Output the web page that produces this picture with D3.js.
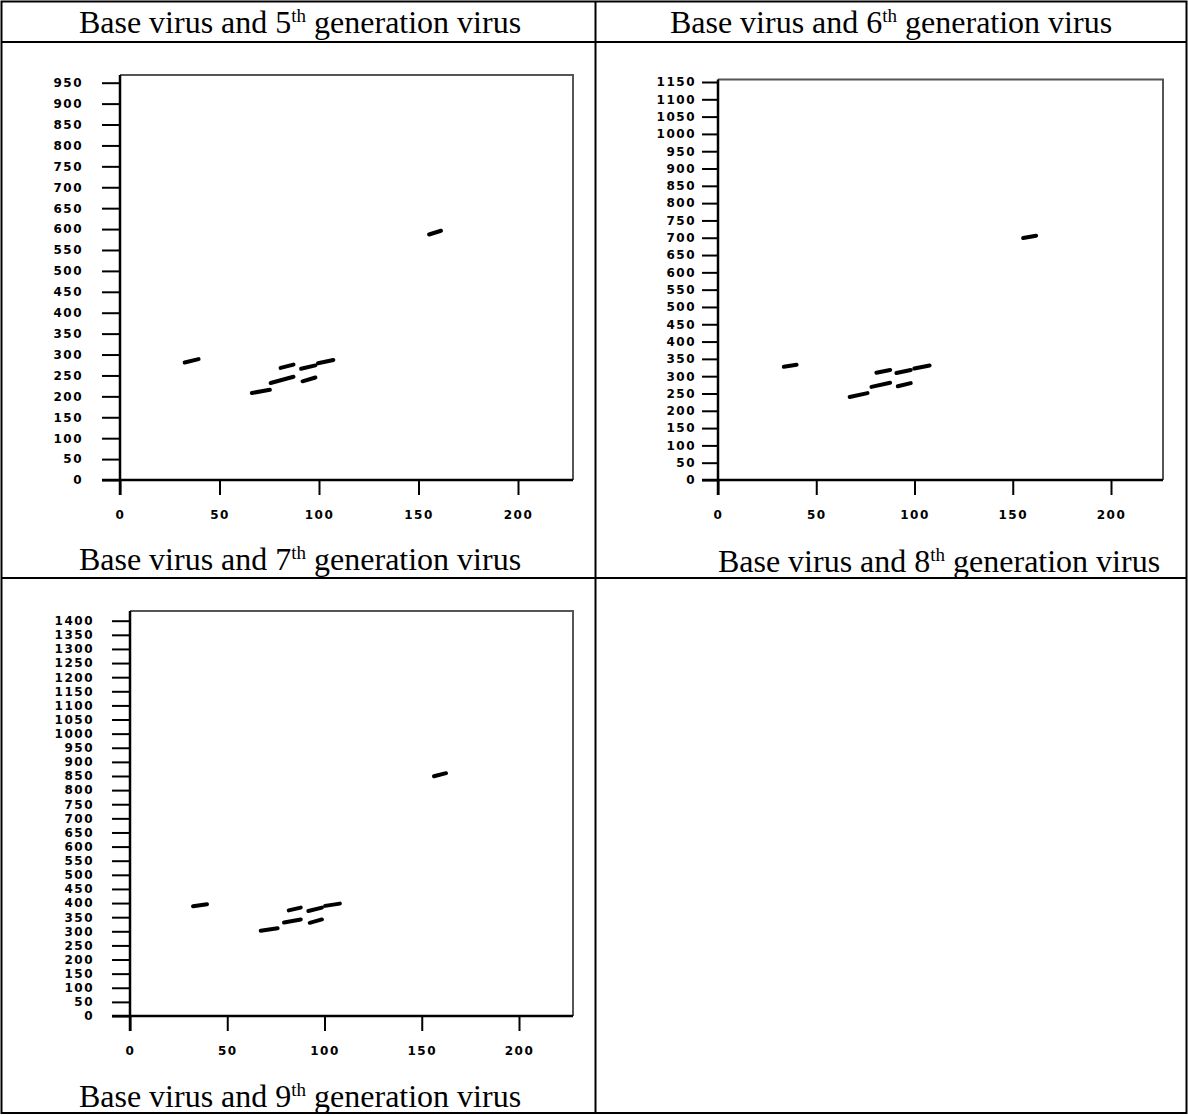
<!DOCTYPE html>
<html>
<head>
<meta charset="utf-8">
<title>Base virus dot plots</title>
<script src="https://d3js.org/d3.v7.min.js"></script>
<style>
  body { margin: 0; background: #fff; }
  svg { display: block; }
  .cap { font-family: "Liberation Serif", "Times New Roman", serif; font-size: 32px; fill: #000; }
  .tick text { font-family: "DejaVu Sans", sans-serif; font-size: 12px; font-weight: bold; letter-spacing: 1.5px; fill: #000; }
</style>
</head>
<body>
<script>
// captions: generation, centre x, baseline y
var captionGen = [5, 6, 7, 8, 9];
var captionX = [300, 891, 300, 939, 300];
var captionY = [33, 33, 570, 572, 1107];

// x ticks are shared
var xTicks = [0, 50, 100, 150, 200];

// y axis maxima of the three plots
var yMax5 = 950, yMax6 = 1150, yMax7 = 1400;

// matching segments [x1, y1, x2, y2]
var segs5 = [
  [32.5, 281, 39.5, 289],
  [66.3, 208, 75.3, 216],
  [75.7, 232, 87.2, 247],
  [80.7, 268, 87.2, 276],
  [91.0, 266, 98.2, 274],
  [99.5, 279, 107.2, 287],
  [91.7, 236, 98.2, 245],
  [155.3, 587, 161.3, 596]
];
var segs6 = [
  [33.5, 327, 40.0, 333],
  [67.0, 240, 76.1, 251],
  [78.1, 269, 87.6, 281],
  [80.6, 310, 87.6, 318],
  [90.8, 309, 98.1, 318],
  [99.9, 322, 107.7, 331],
  [91.5, 271, 98.1, 280],
  [155.3, 699, 161.9, 706]
];
var segs7 = [
  [32.4, 389, 39.6, 396],
  [67.2, 302, 75.9, 311],
  [79.2, 331, 87.8, 342],
  [81.6, 374, 87.8, 384],
  [91.7, 372, 98.7, 384],
  [100.3, 390, 107.9, 398],
  [92.4, 330, 98.7, 342],
  [156.3, 849, 162.5, 860]
];

var W = 1188, H = 1116;
var svg = d3.select("body").append("svg").attr("width", W).attr("height", H);

// table grid
var grid = svg.append("g").attr("stroke", "#000").attr("stroke-width", 2).attr("fill", "none");
grid.append("rect").attr("x", 1.5).attr("y", 1.5).attr("width", 1185).attr("height", 1111.5);
grid.append("line").attr("x1", 1).attr("x2", 1187).attr("y1", 42).attr("y2", 42);
grid.append("line").attr("x1", 1).attr("x2", 1187).attr("y1", 578).attr("y2", 578);
grid.append("line").attr("x1", 595.5).attr("x2", 595.5).attr("y1", 1).attr("y2", 1113);

captionGen.forEach(function(g, i) {
  var t = svg.append("text").attr("class", "cap")
      .attr("x", captionX[i]).attr("y", captionY[i]).attr("text-anchor", "middle");
  t.append("tspan").text("Base virus and " + g);
  t.append("tspan").attr("dy", -11).attr("font-size", 19).text("th");
  t.append("tspan").attr("dy", 11).text(" generation virus");
});

function plot(cfg) {
  var g = svg.append("g");
  var x = d3.scaleLinear().domain([0, 200]).range([cfg.left, cfg.x200]);
  var y = d3.scaleLinear().domain([0, cfg.yMax]).range([cfg.bottom, cfg.yTop]);

  // frame: top and right in grey
  g.append("path")
    .attr("d", "M" + cfg.left + "," + cfg.top + "H" + cfg.right + "V" + cfg.bottom)
    .attr("fill", "none").attr("stroke", "#555").attr("stroke-width", 2);

  var ya = g.append("g").attr("transform", "translate(" + cfg.left + ",0)")
    .call(d3.axisLeft(y).tickValues(d3.range(0, cfg.yMax + 1, 50)).tickFormat(d3.format("d"))
      .tickSize(cfg.tick).tickPadding(cfg.ypad).tickSizeOuter(0));
  var xa = g.append("g").attr("transform", "translate(0," + cfg.bottom + ")")
    .call(d3.axisBottom(x).tickValues(xTicks).tickFormat(d3.format("d"))
      .tickSize(15).tickPadding(15).tickSizeOuter(0));
  [ya, xa].forEach(function(a) {
    a.select(".domain").remove();
    a.selectAll("line").attr("stroke", "#000").attr("stroke-width", 2);
  });

  // axis lines
  g.append("line").attr("x1", cfg.left).attr("x2", cfg.left)
    .attr("y1", cfg.top).attr("y2", cfg.bottom + 15)
    .attr("stroke", "#000").attr("stroke-width", 2.5);
  g.append("line").attr("x1", cfg.left - cfg.tick).attr("x2", cfg.right)
    .attr("y1", cfg.bottom).attr("y2", cfg.bottom)
    .attr("stroke", "#000").attr("stroke-width", 2.5);

  g.selectAll(".seg").data(cfg.segs).enter().append("line")
    .attr("class", "seg")
    .attr("x1", function(d) { return x(d[0]); })
    .attr("y1", function(d) { return y(d[1]); })
    .attr("x2", function(d) { return x(d[2]); })
    .attr("y2", function(d) { return y(d[3]); })
    .attr("stroke", "#000").attr("stroke-width", 4).attr("stroke-linecap", "round");
}

plot({segs: segs5, yMax: yMax5, left: 120, x200: 518, right: 573, top: 75, yTop: 82.7, bottom: 480, tick: 18, ypad: 19});
plot({segs: segs6, yMax: yMax6, left: 718, x200: 1111, right: 1163, top: 79.5, yTop: 82, bottom: 480, tick: 16, ypad: 6});
plot({segs: segs7, yMax: yMax7, left: 130, x200: 519, right: 573, top: 611, yTop: 620.7, bottom: 1016, tick: 18, ypad: 18});
</script>
</body>
</html>
